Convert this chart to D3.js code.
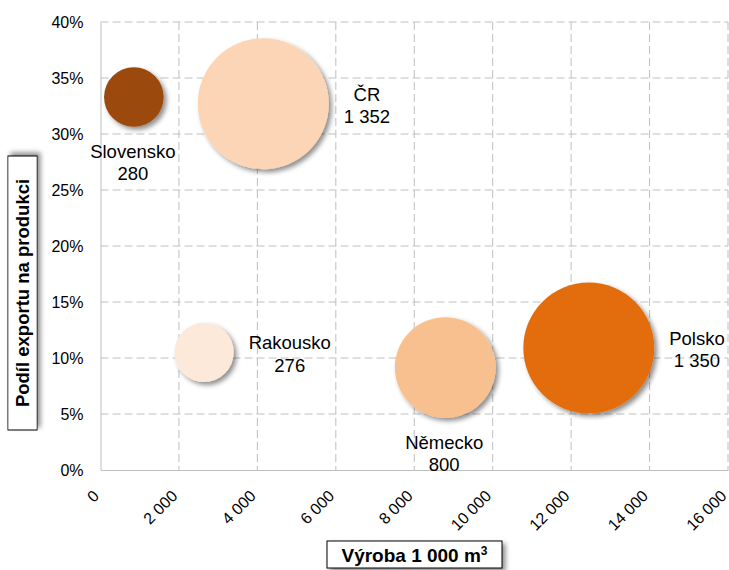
<!DOCTYPE html>
<html><head><meta charset="utf-8">
<script src="https://cdn.jsdelivr.net/npm/d3@7"></script>
<style>body{margin:0;background:#fff}svg{display:block;font-family:"Liberation Sans",Arial,sans-serif}</style>
</head><body><svg id="c" width="729" height="570"></svg>
<script>
const countries = ["Slovensko","ČR","Rakousko","Německo","Polsko"];
const production = [850, 4150, 2640, 8790, 12450];
const exportShare = [0.333, 0.327, 0.105, 0.0915, 0.109];
const bubbleSize = [280, 1352, 276, 800, 1350];
const sizeLabels = ["280","1 352","276","800","1 350"];
const colors = ["#9C4A0B","#FBD5B5","#FDE9DA","#F9C08F","#E36C0A"];
const labelPlace = ["below","right","right","below","right"];
const xTicks = [0,2000,4000,6000,8000,10000,12000,14000,16000];
const yTicks = [0,0.05,0.10,0.15,0.20,0.25,0.30,0.35,0.40];

const svg = d3.select("#c");
const x = d3.scaleLinear().domain([0,16000]).range([100.5,728]);
const y = d3.scaleLinear().domain([0,0.40]).range([470,22]);
const r = d3.scaleSqrt().domain([0,1352]).range([0,65.5]);

const defs = svg.append("defs");
const f = defs.append("filter").attr("id","sh").attr("x","-30%").attr("y","-30%").attr("width","160%").attr("height","160%");
f.append("feGaussianBlur").attr("in","SourceAlpha").attr("stdDeviation",2.5).attr("result","b");
f.append("feOffset").attr("in","b").attr("dx",3).attr("dy",3).attr("result","o");
f.append("feComponentTransfer").attr("in","o").attr("result","o2").append("feFuncA").attr("type","linear").attr("slope",0.45);
const m = f.append("feMerge"); m.append("feMergeNode").attr("in","o2"); m.append("feMergeNode").attr("in","SourceGraphic");

const grid = "#BFBFBF";
svg.append("g").selectAll("line").data(xTicks.slice(1)).join("line")
  .attr("x1",d=>x(d)).attr("x2",d=>x(d)).attr("y1",y(0.40)).attr("y2",y(0))
  .attr("stroke",grid).attr("stroke-width",1).attr("stroke-dasharray","8,4");
svg.append("g").selectAll("line").data(yTicks.slice(1)).join("line")
  .attr("x1",x(0)).attr("x2",x(16000)).attr("y1",d=>y(d)).attr("y2",d=>y(d))
  .attr("stroke",grid).attr("stroke-width",1).attr("stroke-dasharray","8,4");

const yAxis = d3.axisLeft(y).tickValues(yTicks).tickFormat(d=>Math.round(d*100)+"%").tickSize(0).tickPadding(17);
const gy = svg.append("g").attr("transform",`translate(${x(0)},0)`).call(yAxis);
gy.select(".domain").attr("stroke",grid);
gy.selectAll("text").attr("font-size",16).attr("fill","#000").attr("font-family","Liberation Sans, Arial, sans-serif");

const xAxis = d3.axisBottom(x).tickValues(xTicks).tickFormat(d=>d3.format(",")(d).replace(/,/g," ")).tickSize(0);
const gx = svg.append("g").attr("transform",`translate(0,${y(0)})`).call(xAxis);
gx.select(".domain").attr("stroke",grid);
gx.selectAll("text").attr("font-size",16).attr("fill","#000").attr("font-family","Liberation Sans, Arial, sans-serif")
  .attr("text-anchor","end").attr("dy",null).attr("y",null)
  .attr("transform","translate(-1,27) rotate(-45)");

const idx = d3.range(countries.length);
svg.append("g").selectAll("circle").data(idx).join("circle")
  .attr("cx",i=>x(production[i])).attr("cy",i=>y(exportShare[i])).attr("r",i=>r(bubbleSize[i]))
  .attr("fill",i=>colors[i]).attr("filter","url(#sh)");

const lg = svg.append("g").attr("font-size",18.5).attr("fill","#000");
idx.forEach(i=>{
  const cx = x(production[i]), cy = y(exportShare[i]), rr = r(bubbleSize[i]);
  const t = lg.append("text").attr("text-anchor","middle");
  const a = t.append("tspan").text(countries[i]);
  const b = t.append("tspan").text(sizeLabels[i]);
  let lx, by;
  if (labelPlace[i]==="below") { lx = cx - 1; by = cy + rr + 31; }
  else {
    const w = Math.max(a.node().getComputedTextLength(), b.node().getComputedTextLength());
    lx = cx + rr + 15 + w/2; by = cy - 3;
  }
  a.attr("x",lx).attr("y",by);
  b.attr("x",lx).attr("y",by+22.5);
});

function boxTitle(txt, cx, cy, rot, w, h){
  const g = svg.append("g").attr("transform",`translate(${cx},${cy}) rotate(${rot})`);
  g.append("rect").attr("x",-w/2).attr("y",-h/2).attr("width",w).attr("height",h)
    .attr("fill","#fff").attr("stroke","#000").attr("stroke-width",1).attr("filter","url(#sh)");
  g.append("text").attr("text-anchor","middle").attr("y",6.5).attr("font-size",18.5).attr("font-weight","bold").text(txt);
}
boxTitle("Podíl exportu na produkci", 22.5, 293, -90, 274, 29);
(function(){
  const g = svg.append("g").attr("transform",`translate(414.5,554.5)`);
  g.append("rect").attr("x",-87.5).attr("y",-13.5).attr("width",175).attr("height",27)
    .attr("fill","#fff").attr("stroke","#000").attr("stroke-width",1).attr("filter","url(#sh)");
  const t = g.append("text").attr("text-anchor","middle").attr("y",7).attr("font-size",19).attr("font-weight","bold");
  t.append("tspan").text("Výroba 1 000 m");
  t.append("tspan").text("3").attr("font-size",12).attr("dy",-7);
})();
</script></body></html>
